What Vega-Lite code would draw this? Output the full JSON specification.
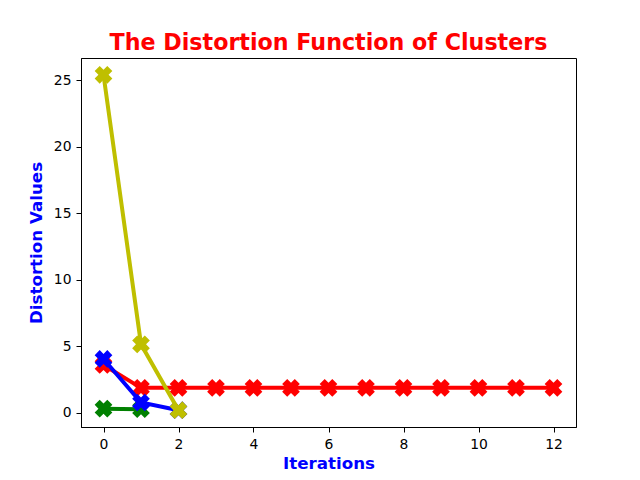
{
  "$schema": "https://vega.github.io/schema/vega-lite/v6.json",
  "width": 495,
  "height": 369,
  "autosize": {"type": "none"},
  "padding": {"left": 81, "top": 58, "right": 64, "bottom": 53},
  "background": "white",
  "title": {
    "text": "The Distortion Function of Clusters",
    "color": "#ff0000",
    "font": "DejaVu Sans",
    "fontSize": 22.2,
    "fontWeight": "bold",
    "anchor": "middle",
    "offset": 4
  },
  "config": {
    "view": {"stroke": "black", "strokeWidth": 1},
    "axis": {
      "grid": false,
      "domainColor": "black",
      "tickColor": "black",
      "tickSize": 5,
      "labelFont": "DejaVu Sans",
      "labelFontSize": 13.9,
      "labelColor": "black",
      "labelPadding": 5,
      "titleFont": "DejaVu Sans",
      "titleFontSize": 16.7,
      "titleFontWeight": "bold",
      "titleColor": "#0000ff"
    }
  },
  "data": {
    "values": [
      {"series": "red", "iteration": 0, "distortion": 3.6},
      {"series": "red", "iteration": 1, "distortion": 1.88},
      {"series": "red", "iteration": 2, "distortion": 1.88},
      {"series": "red", "iteration": 3, "distortion": 1.88},
      {"series": "red", "iteration": 4, "distortion": 1.88},
      {"series": "red", "iteration": 5, "distortion": 1.88},
      {"series": "red", "iteration": 6, "distortion": 1.88},
      {"series": "red", "iteration": 7, "distortion": 1.88},
      {"series": "red", "iteration": 8, "distortion": 1.88},
      {"series": "red", "iteration": 9, "distortion": 1.88},
      {"series": "red", "iteration": 10, "distortion": 1.88},
      {"series": "red", "iteration": 11, "distortion": 1.88},
      {"series": "red", "iteration": 12, "distortion": 1.88},
      {"series": "green", "iteration": 0, "distortion": 0.32},
      {"series": "green", "iteration": 1, "distortion": 0.28},
      {"series": "blue", "iteration": 0, "distortion": 4.05},
      {"series": "blue", "iteration": 1, "distortion": 0.78},
      {"series": "blue", "iteration": 2, "distortion": 0.2},
      {"series": "yellow", "iteration": 0, "distortion": 25.4},
      {"series": "yellow", "iteration": 1, "distortion": 5.15},
      {"series": "yellow", "iteration": 2, "distortion": 0.2}
    ]
  },
  "encoding": {
    "x": {
      "field": "iteration",
      "type": "quantitative",
      "title": "Iterations",
      "scale": {"domain": [-0.6, 12.6], "nice": false, "zero": false},
      "axis": {"values": [0, 2, 4, 6, 8, 10, 12], "titlePadding": 5}
    },
    "y": {
      "field": "distortion",
      "type": "quantitative",
      "title": "Distortion Values",
      "scale": {"domain": [-1.06, 26.66], "nice": false, "zero": false},
      "axis": {"values": [0, 5, 10, 15, 20, 25], "titlePadding": 8}
    },
    "color": {
      "field": "series",
      "type": "nominal",
      "scale": {
        "domain": ["red", "green", "blue", "yellow"],
        "range": ["#ff0000", "#008000", "#0000ff", "#bfbf00"]
      },
      "legend": null
    }
  },
  "layer": [
    {
      "transform": [{"filter": "datum.series == 'red'"}],
      "layer": [
        {"mark": {"type": "line", "strokeWidth": 4}},
        {"mark": {"type": "point", "shape": "cross", "angle": 45, "size": 320, "filled": true, "opacity": 1}}
      ]
    },
    {
      "transform": [{"filter": "datum.series == 'green'"}],
      "layer": [
        {"mark": {"type": "line", "strokeWidth": 4}},
        {"mark": {"type": "point", "shape": "cross", "angle": 45, "size": 320, "filled": true, "opacity": 1}}
      ]
    },
    {
      "transform": [{"filter": "datum.series == 'blue'"}],
      "layer": [
        {"mark": {"type": "line", "strokeWidth": 4}},
        {"mark": {"type": "point", "shape": "cross", "angle": 45, "size": 320, "filled": true, "opacity": 1}}
      ]
    },
    {
      "transform": [{"filter": "datum.series == 'yellow'"}],
      "layer": [
        {"mark": {"type": "line", "strokeWidth": 4}},
        {"mark": {"type": "point", "shape": "cross", "angle": 45, "size": 320, "filled": true, "opacity": 1}}
      ]
    }
  ]
}
